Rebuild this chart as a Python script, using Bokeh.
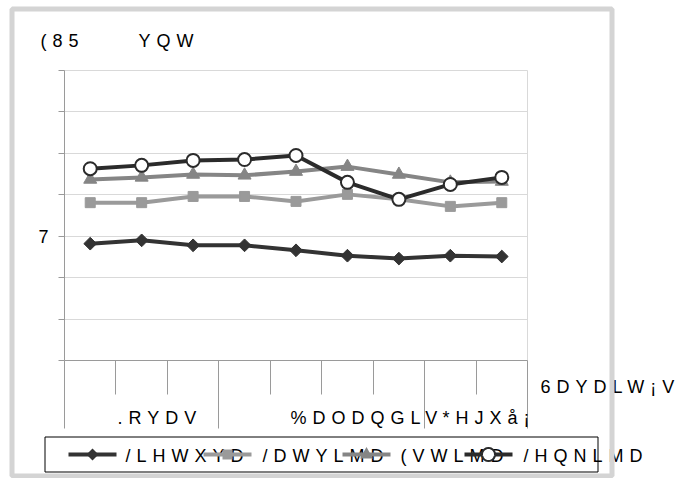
import math
from bokeh.plotting import figure
from bokeh.models import Range1d, FixedTicker
from bokeh.core.properties import value
from bokeh.embed import file_html
from bokeh.resources import INLINE

# ---------------- data ----------------
title_left = "(85"
title_right = "YQW"
x_title = "6DYDLW¡V"
months = [".RYDV", "%DODQGLV", "*HJXå¡"]
month_weeks = [3, 4, 2]
weeks = list(range(9))
y_ticks = [0, 1, 2, 3, 4, 5, 6, 7]
y_tick_labels = ["", "", "", "7", "", "", "", ""]

series_names = ["/LHWXYD", "/DWYLMD", "(VWLMD", "/HQNLMD"]
lietuva = [2.82, 2.90, 2.78, 2.78, 2.66, 2.53, 2.46, 2.53, 2.51]
latvija = [3.81, 3.81, 3.96, 3.96, 3.84, 4.01, 3.89, 3.72, 3.81]
estija = [4.37, 4.42, 4.49, 4.47, 4.56, 4.68, 4.49, 4.30, 4.32]
lenkija = [4.63, 4.71, 4.83, 4.85, 4.95, 4.30, 3.89, 4.25, 4.42]

# ---------------- layout / styles ----------------
FONT = "Liberation Sans"
FS = "18px"
DARK = "#333333"
styles = [
    dict(color=DARK, marker="square", size=9, angle=math.pi / 4, fill=DARK, lw=1),
    dict(color="#9a9a9a", marker="square", size=10, angle=0.0, fill="#9a9a9a", lw=1),
    dict(color="#858585", marker="triangle", size=13, angle=0.0, fill="#858585", lw=1),
    dict(color="#2b2b2b", marker="circle", size=13, angle=0.0, fill="white", lw=2),
]
series = [lietuva, latvija, estija, lenkija]

W, H = 681, 478
FL, FR, FT, FB = 64, 527, 70, 360   # frame edges in canvas pixels

p = figure(width=W, height=H, output_backend="svg", toolbar_location=None,
           x_range=Range1d(0, len(weeks)), y_range=Range1d(0, 7),
           min_border_left=FL, min_border_right=W - FR, min_border_top=FT,
           min_border_bottom=H - FB)
p.styles = {"letter-spacing": "6px"}
p.outline_line_color = "#d9d9d9"
p.background_fill_color = "white"
p.border_fill_color = "white"

# y axis
p.yaxis.ticker = FixedTicker(ticks=y_ticks)
p.yaxis.major_label_overrides = {t: l for t, l in zip(y_ticks, y_tick_labels)}
p.yaxis.major_tick_out = 6
p.yaxis.major_tick_in = 0
p.yaxis.minor_tick_out = 0
p.yaxis.minor_tick_in = 0
p.yaxis.major_label_standoff = 10
p.yaxis.axis_line_color = "#9a9a9a"
p.yaxis.major_tick_line_color = "#9a9a9a"
p.yaxis.major_label_text_font = FONT
p.yaxis.major_label_text_font_size = FS
p.yaxis.major_label_text_color = "black"

# x axis: week boundaries, month separators longer
month_bounds = [0]
for n in month_weeks:
    month_bounds.append(month_bounds[-1] + n)
week_bounds = [i for i in range(1, len(weeks)) if i not in month_bounds]
p.xaxis.ticker = FixedTicker(ticks=week_bounds, minor_ticks=month_bounds)
p.xaxis.major_label_overrides = {t: "" for t in week_bounds}
p.xaxis.major_tick_out = 34
p.xaxis.major_tick_in = 0
p.xaxis.minor_tick_out = 68
p.xaxis.minor_tick_in = 0
p.xaxis.axis_line_color = "#9a9a9a"
p.xaxis.major_tick_line_color = "#9a9a9a"
p.xaxis.minor_tick_line_color = "#9a9a9a"
p.xaxis.major_label_text_font_size = "1px"

p.xgrid.visible = False
p.ygrid.ticker = FixedTicker(ticks=y_ticks)
p.ygrid.grid_line_color = "#d9d9d9"

# data
xc = [w + 0.5 for w in weeks]
for vals, st in zip(series, styles):
    p.line(xc, vals, line_color=st["color"], line_width=4, line_join="round")
for vals, st in zip(series, styles):
    p.scatter(xc, vals, marker=st["marker"], size=st["size"], angle=st["angle"],
              fill_color=st["fill"], line_color=st["color"], line_width=st["lw"])

# page-pixel helper ranges for decorations outside the frame
p.extra_x_ranges = {"px": Range1d(FL, FR)}
p.extra_y_ranges = {"py": Range1d(FB, FT)}
PX = dict(x_range_name="px", y_range_name="py", level="overlay")

def label(x, y, text):
    p.text(x=[x], y=[y], text=[text], text_font=value(FONT), text_font_size=value(FS),
           text_color="black", text_align="left", text_baseline="middle", **PX)

label(40, 40, title_left)
label(138, 40, title_right)
label(540, 386, x_title)
for x, m in zip([117, 290, 442], months):
    label(x, 417, m)

# legend
LEG_Y = 454
leg_x0 = [68, 203, 342, 464]
leg_lab = [125, 262, 400, 523]
for x, name in zip(leg_lab, series_names):
    label(x, LEG_Y + 1, name)

for x0, st in zip(leg_x0, styles):
    p.segment(x0=[x0], y0=[LEG_Y], x1=[x0 + 48], y1=[LEG_Y], line_color=st["color"],
              line_width=4, **PX)

# legend marker shapes (drawn as plain shapes: markers outside the frame are culled)
cx = [x0 + 24 for x0 in leg_x0]
cy = LEG_Y
# diamond
p.varea(x=[cx[0] - 6, cx[0], cx[0] + 6], y1=[cy, cy - 6, cy], y2=[cy, cy + 6, cy],
        fill_color=styles[0]["fill"], **PX)
# square
p.quad(left=[cx[1] - 5], right=[cx[1] + 5], top=[cy - 5], bottom=[cy + 5],
       fill_color=styles[1]["fill"], line_color=None, **PX)
# triangle
p.varea(x=[cx[2] - 6.5, cx[2], cx[2] + 6.5], y1=[cy + 4, cy + 4, cy + 4],
        y2=[cy + 4, cy - 7.5, cy + 4], fill_color=styles[2]["fill"], **PX)
# circle
n = 32
ts = [math.pi - math.pi * i / n for i in range(n + 1)]
r = 6.5
xs = [cx[3] + r * math.cos(t) for t in ts]
p.varea(x=xs, y1=[cy - r * math.sin(t) for t in ts], y2=[cy + r * math.sin(t) for t in ts],
        fill_color="white", **PX)
ts2 = [2 * math.pi * i / (2 * n) for i in range(2 * n + 1)]
p.line(x=[cx[3] + r * math.cos(t) for t in ts2], y=[cy + r * math.sin(t) for t in ts2],
       line_color=styles[3]["color"], line_width=2, **PX)

# outer frame and legend box
p.quad(left=[11.5], right=[611.5], top=[8.5], bottom=[H - 2.5], fill_color=None,
       line_color="#d4d4d4", line_width=5, **PX)
p.quad(left=[44.5], right=[597.5], top=[LEG_Y - 17.5], bottom=[LEG_Y + 17.5], fill_color=None,
       line_color="black", line_width=1, **PX)

open("out.html", "w").write(file_html(p, INLINE))
